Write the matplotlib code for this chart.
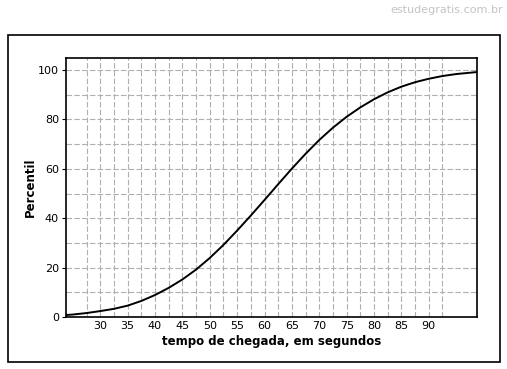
import matplotlib
import matplotlib.pyplot as plt
import numpy as np
from matplotlib.patches import Rectangle

matplotlib.use("Agg")

# tempo de chegada (s) and percentil
tempo = [23.75, 25, 27.5, 30, 32.5, 35, 37.5, 40, 42.5, 45, 47.5, 50, 52.5,
         55, 57.5, 60, 62.5, 65, 67.5, 70, 72.5, 75, 77.5, 80, 82.5, 85,
         87.5, 90, 92.5, 95, 98.75]
percentil = [0.8, 1.0, 1.6, 2.4, 3.3, 4.6, 6.5, 8.9, 11.8, 15.2, 19.2, 23.9,
             29.2, 35.0, 41.1, 47.4, 53.8, 60.1, 66.1, 71.7, 76.7, 81.1, 84.9,
             88.2, 91.0, 93.3, 95.1, 96.5, 97.6, 98.4, 99.2]

x_ticks = [30, 35, 40, 45, 50, 55, 60, 65, 70, 75, 80, 85, 90]
y_ticks = [0, 20, 40, 60, 80, 100]
v_grid = np.arange(27.5, 93.0, 2.5)
h_grid = np.arange(10, 101, 10)

fig = plt.figure(figsize=(5.07, 3.69), dpi=100)
fig.patch.set_facecolor("white")

# outer frame and watermark
fig.patches.append(Rectangle((8 / 507, 1 - 362 / 369), 492 / 507, 327 / 369,
                             transform=fig.transFigure, fill=False,
                             edgecolor="black", linewidth=1.2))
fig.text(0.992, 0.972, "estudegratis.com.br", ha="right", va="center",
         fontsize=8, color="#c4c4c4")

ax = fig.add_axes([66 / 507, 1 - 317 / 369, 411 / 507, 259 / 369])
ax.set_xlim(23.75, 98.8)
ax.set_ylim(0, 104.9)

for gx in v_grid:
    ax.axvline(gx, color="#b0b0b0", linewidth=0.8, dashes=(5, 2), zorder=1)
for gy in h_grid:
    ax.axhline(gy, color="#b0b0b0", linewidth=0.8, dashes=(5, 2), zorder=1)

ax.plot(tempo, percentil, color="black", linewidth=1.4, zorder=3)

ax.set_xticks(x_ticks)
ax.set_yticks(y_ticks)
ax.tick_params(axis="x", length=0, labelsize=8, pad=3)
ax.tick_params(axis="y", length=3, labelsize=8, pad=2)
for sp in ax.spines.values():
    sp.set_linewidth(1.2)

ax.set_xlabel("tempo de chegada, em segundos", fontsize=8.5,
              fontweight="bold", labelpad=3)
ax.set_ylabel("Percentil", fontsize=8.5, fontweight="bold", labelpad=0)
ax.yaxis.set_label_coords(-0.072, 0.5)

fig.savefig("out.png", dpi=100)
